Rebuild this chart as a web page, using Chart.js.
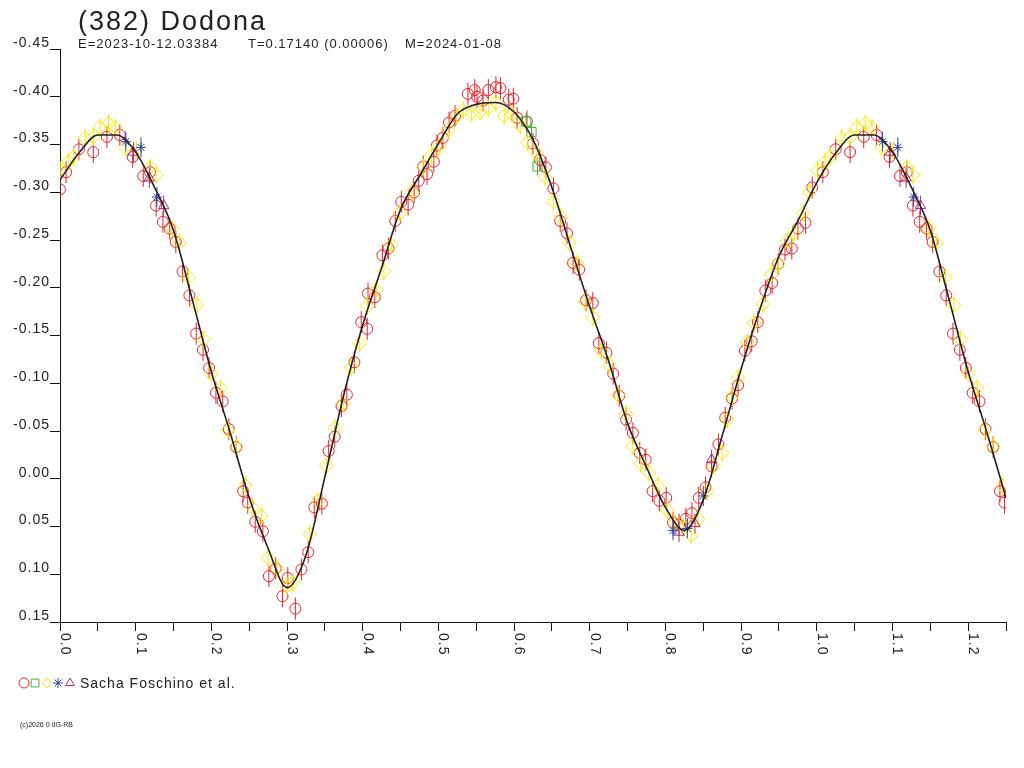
<!DOCTYPE html>
<html>
<head>
<meta charset="utf-8">
<script src="https://cdn.jsdelivr.net/npm/chart.js@4/dist/chart.umd.min.js"></script>
<style>
  html, body { margin: 0; padding: 0; background: #fff; }
  #lc { display: block; }
</style>
</head>
<body>
<canvas id="lc" width="1024" height="768"></canvas>
<script>
// phase range shown twice (0..0.25 is repeated after 1.0)
const repeatUpTo = 0.25;

// fitted lightcurve
const fitPhase = [0.000, 0.025, 0.050, 0.075, 0.100, 0.125, 0.150, 0.175, 0.200, 0.225,
                  0.250, 0.275, 0.300, 0.325, 0.350, 0.375, 0.400, 0.425, 0.450, 0.475,
                  0.500, 0.525, 0.550, 0.575, 0.600, 0.625, 0.650, 0.675, 0.700, 0.725,
                  0.750, 0.775, 0.800, 0.825, 0.850, 0.875, 0.900, 0.925, 0.950, 0.975, 1.000];
const fitMag = [-0.313, -0.341, -0.360, -0.360, -0.342, -0.305, -0.260, -0.187, -0.112, -0.048,
                0.020, 0.073, 0.114, 0.080, -0.002, -0.088, -0.161, -0.221, -0.282, -0.317,
                -0.351, -0.382, -0.392, -0.394, -0.384, -0.355, -0.305, -0.242, -0.180, -0.123,
                -0.058, -0.012, 0.030, 0.054, 0.022, -0.045, -0.115, -0.178, -0.233, -0.270, -0.310];

// session 1 - red circles
const redPhase = [0.000, 0.008, 0.025, 0.044, 0.062, 0.079, 0.096, 0.110, 0.119, 0.127,
                  0.136, 0.145, 0.153, 0.162, 0.171, 0.180, 0.189, 0.197, 0.206, 0.215,
                  0.223, 0.233, 0.242, 0.248, 0.258, 0.268, 0.276, 0.285, 0.294, 0.301,
                  0.311, 0.319, 0.328, 0.336, 0.346, 0.355, 0.363, 0.372, 0.379, 0.389,
                  0.398, 0.406, 0.407, 0.416, 0.426, 0.434, 0.443, 0.451, 0.460, 0.468,
                  0.474, 0.480, 0.485, 0.494, 0.498, 0.506, 0.514, 0.522, 0.539, 0.548,
                  0.551, 0.559, 0.566, 0.576, 0.582, 0.593, 0.599, 0.604, 0.617, 0.625,
                  0.634, 0.642, 0.652, 0.661, 0.670, 0.678, 0.686, 0.695, 0.704, 0.712,
                  0.722, 0.731, 0.739, 0.748, 0.757, 0.766, 0.774, 0.783, 0.792, 0.801,
                  0.810, 0.818, 0.827, 0.835, 0.844, 0.853, 0.861, 0.870, 0.879, 0.888,
                  0.896, 0.905, 0.914, 0.922, 0.932, 0.941, 0.949, 0.958, 0.967, 0.975,
                  0.985, 0.994];
const redMag = [-0.303, -0.321, -0.345, -0.342, -0.358, -0.360, -0.337, -0.317, -0.321, -0.286,
                -0.269, -0.262, -0.248, -0.217, -0.192, -0.152, -0.135, -0.116, -0.090, -0.081,
                -0.052, -0.033, 0.013, 0.025, 0.045, 0.055, 0.102, 0.094, 0.123, 0.104,
                0.136, 0.095, 0.077, 0.030, 0.026, -0.029, -0.044, -0.076, -0.088, -0.122,
                -0.164, -0.157, -0.194, -0.190, -0.234, -0.241, -0.270, -0.290, -0.287, -0.300,
                -0.312, -0.327, -0.319, -0.332, -0.349, -0.357, -0.373, -0.380, -0.403, -0.407,
                -0.400, -0.396, -0.407, -0.410, -0.409, -0.397, -0.398, -0.378, -0.374, -0.351,
                -0.334, -0.326, -0.304, -0.270, -0.257, -0.226, -0.219, -0.187, -0.184, -0.142,
                -0.132, -0.110, -0.087, -0.062, -0.048, -0.027, -0.020, 0.013, 0.023, 0.020,
                0.046, 0.048, 0.042, 0.036, 0.020, 0.009, -0.013, -0.036, -0.064, -0.084,
                -0.098, -0.134, -0.144, -0.164, -0.197, -0.205, -0.225, -0.240, -0.241, -0.262,
                -0.268, -0.305];

// session 2 - green squares
const greenPhase = [0.616, 0.623, 0.631];
const greenMag = [-0.374, -0.363, -0.327];

// session 3 - yellow diamonds
const yellowPhase = [0.001, 0.011, 0.018, 0.033, 0.044, 0.053, 0.064, 0.073, 0.086, 0.101,
                     0.119, 0.127, 0.148, 0.158, 0.170, 0.181, 0.190, 0.200, 0.212, 0.222,
                     0.233, 0.245, 0.254, 0.266, 0.275, 0.287, 0.300, 0.308, 0.330, 0.341,
                     0.352, 0.363, 0.374, 0.385, 0.396, 0.406, 0.418, 0.428, 0.438, 0.449,
                     0.465, 0.480, 0.491, 0.502, 0.513, 0.524, 0.533, 0.544, 0.555, 0.566,
                     0.576, 0.587, 0.597, 0.608, 0.618, 0.630, 0.641, 0.652, 0.662, 0.673,
                     0.683, 0.694, 0.704, 0.715, 0.726, 0.737, 0.748, 0.757, 0.767, 0.778,
                     0.790, 0.802, 0.813, 0.824, 0.834, 0.843, 0.855, 0.864, 0.875, 0.882,
                     0.888, 0.896, 0.908, 0.917, 0.929, 0.940, 0.949, 0.961, 0.970, 0.982, 0.990];
const yellowMag = [-0.323, -0.332, -0.337, -0.357, -0.358, -0.368, -0.372, -0.368, -0.347, -0.344,
                   -0.326, -0.318, -0.262, -0.247, -0.211, -0.182, -0.146, -0.110, -0.095, -0.051,
                   -0.034, 0.007, 0.030, 0.039, 0.083, 0.094, 0.112, 0.109, 0.058, 0.023,
                   -0.014, -0.053, -0.079, -0.117, -0.142, -0.181, -0.198, -0.217, -0.245, -0.278,
                   -0.300, -0.326, -0.339, -0.349, -0.365, -0.379, -0.386, -0.383, -0.384, -0.388,
                   -0.394, -0.380, -0.382, -0.370, -0.352, -0.341, -0.316, -0.290, -0.274, -0.247,
                   -0.226, -0.185, -0.169, -0.134, -0.119, -0.088, -0.068, -0.034, -0.016, -0.006,
                   0.007, 0.033, 0.046, 0.051, 0.059, 0.042, 0.013, -0.013, -0.027, -0.062,
                   -0.086, -0.106, -0.143, -0.163, -0.183, -0.214, -0.225, -0.249, -0.257, -0.278, -0.300];

// session 4 - blue stars
const bluePhase = [0.087, 0.107, 0.128, 0.810, 0.829, 0.850];
const blueMag = [-0.353, -0.347, -0.295, 0.054, 0.052, 0.018];

// session 5 - purple triangles
const purplePhase = [0.097, 0.118, 0.137, 0.818, 0.839, 0.861];
const purpleMag = [-0.342, -0.315, -0.286, 0.056, 0.047, -0.020];

const yTicks = { min: -0.45, max: 0.15, step: 0.05 };
const xTicks = { min: 0, max: 1.25, step: 0.05 };

const FONT = '"Liberation Sans", Arial, sans-serif';

// points of one cycle, plus the start of the next cycle
const toPoints = (phase, mag) => {
    const pts = phase.map((p, i) => ({ x: p, y: mag[i] }));
    phase.forEach((p, i) => {
        if (p > 0 && p <= repeatUpTo) pts.push({ x: p + 1, y: mag[i] });
    });
    return pts;
};

const series = [
    { label: 'red', phase: redPhase, mag: redMag, color: '#e8232e', style: 'circle', radius: 5.5, bar: 11 },
    { label: 'green', phase: greenPhase, mag: greenMag, color: '#3fb23f', style: 'rect', radius: 6.5, bar: 9 },
    { label: 'yellow', phase: yellowPhase, mag: yellowMag, color: '#f5ea00', style: 'rectRot', radius: 7, bar: 9 },
    { label: 'blue', phase: bluePhase, mag: blueMag, color: '#2b4aa6', style: 'star', radius: 5, bar: 10 },
    { label: 'purple', phase: purplePhase, mag: purpleMag, color: '#a3307c', style: 'triangle', radius: 6, bar: 10 }
];

const datasets = [{
    label: 'fit',
    data: toPoints(fitPhase, fitMag),
    borderColor: '#202020',
    borderWidth: 1.6,
    pointRadius: 0,
    showLine: true,
    cubicInterpolationMode: 'monotone',
    order: 0
}];

series.forEach((s, i) => {
    const pts = toPoints(s.phase, s.mag);
    datasets.push({
        label: s.label + ' err',
        data: pts,
        pointStyle: 'line',
        rotation: 90,
        pointRadius: s.bar,
        borderColor: s.color,
        borderWidth: 1,
        showLine: false,
        order: 10 - i
    });
    datasets.push({
        label: s.label,
        data: pts,
        pointStyle: s.style,
        pointRadius: s.radius,
        borderColor: s.color,
        backgroundColor: 'rgba(0,0,0,0)',
        borderWidth: 1,
        showLine: false,
        order: 10 - i
    });
});

const textPlugin = {
    id: 'lcText',
    beforeDraw(chart) {
        chart.ctx.letterSpacing = '1px';
    },
    afterDraw(chart) {
        const ctx = chart.ctx;
        const xs = chart.scales.x;
        ctx.save();
        ctx.fillStyle = '#222';

        // rotated phase labels
        ctx.font = '14px ' + FONT;
        ctx.textAlign = 'left';
        ctx.textBaseline = 'alphabetic';
        xs.ticks.forEach(t => {
            const hund = Math.round(t.value * 100);
            if (hund % 10 !== 0) return;
            const px = xs.getPixelForValue(t.value);
            ctx.save();
            ctx.translate(px + 1, chart.chartArea.bottom + 11);
            ctx.rotate(Math.PI / 2);
            ctx.fillText((hund / 100).toFixed(1), 0, 0);
            ctx.restore();
        });

        // title and elements line
        ctx.letterSpacing = '2px';
        ctx.font = '27px ' + FONT;
        ctx.fillText('(382) Dodona', 78, 30);
        ctx.letterSpacing = '1px';
        ctx.font = '13px ' + FONT;
        ctx.fillText('E=2023-10-12.03384', 78, 48);
        ctx.fillText('T=0.17140 (0.00006)', 248, 48);
        ctx.fillText('M=2024-01-08', 405, 48);

        // legend: one symbol per session, then observer
        const lx = [24, 35, 47, 58, 70];
        series.forEach((s, i) => {
            ctx.save();
            ctx.strokeStyle = s.color;
            ctx.fillStyle = 'rgba(0,0,0,0)';
            ctx.lineWidth = 1;
            Chart.helpers.drawPoint(ctx, {
                pointStyle: s.style,
                radius: s.style === 'rect' ? 5.5 : 5,
                rotation: 0,
                borderWidth: 1
            }, lx[i], 683);
            ctx.restore();
        });
        ctx.fillStyle = '#222';
        ctx.font = '14px ' + FONT;
        ctx.fillText('Sacha Foschino et al.', 80, 688);

        ctx.letterSpacing = '0px';
        ctx.font = '7px ' + FONT;
        ctx.fillText('(c)2026 0 dG-RB', 20, 727);
        ctx.restore();
    }
};

new Chart(document.getElementById('lc'), {
    type: 'scatter',
    data: { datasets },
    options: {
        responsive: false,
        animation: false,
        devicePixelRatio: 1,
        events: [],
        layout: { padding: { top: 49, right: 18, left: 0, bottom: 0 } },
        plugins: {
            legend: { display: false },
            tooltip: { enabled: false }
        },
        scales: {
            x: {
                type: 'linear',
                min: xTicks.min,
                max: xTicks.max,
                afterFit: (scale) => { scale.height = 146; },
                ticks: {
                    stepSize: xTicks.step,
                    autoSkip: false,
                    maxRotation: 0,
                    callback: () => ''
                },
                grid: { drawOnChartArea: false, tickLength: 9, color: '#111' },
                border: { color: '#111', width: 1 }
            },
            y: {
                type: 'linear',
                reverse: true,
                min: yTicks.min,
                max: yTicks.max,
                afterFit: (scale) => { scale.width = 60; },
                ticks: {
                    stepSize: yTicks.step,
                    padding: 0,
                    labelOffset: -6,
                    color: '#222',
                    font: { size: 14, family: FONT },
                    callback: (v) => (Math.abs(v) < 1e-9 ? 0 : v).toFixed(2)
                },
                grid: { drawOnChartArea: false, tickLength: 10, color: '#111' },
                border: { color: '#111', width: 1 }
            }
        }
    },
    plugins: [textPlugin]
});
</script>
</body>
</html>
